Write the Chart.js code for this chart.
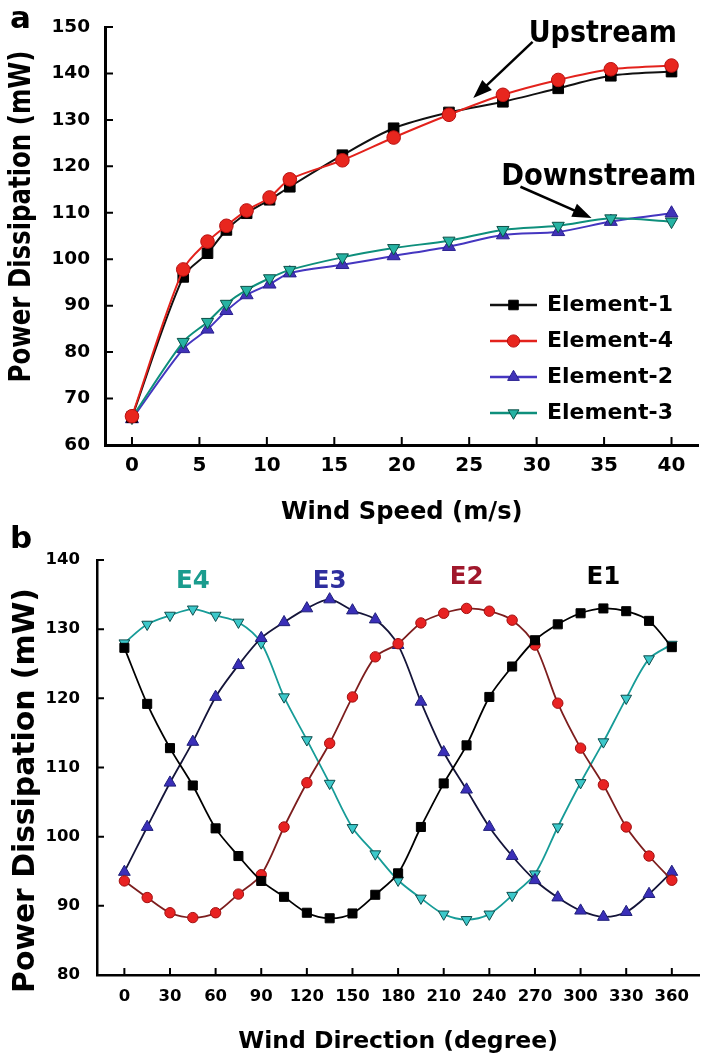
<!DOCTYPE html>
<html>
<head>
<meta charset="utf-8">
<title>Power dissipation vs wind speed and direction</title>
<script src="https://cdn.jsdelivr.net/npm/chart.js@4.4.1/dist/chart.umd.min.js"></script>
<style>
  html, body { margin: 0; padding: 0; background: #fff; }
  #wrap { width: 707px; height: 1061px; background: #fff; }
  canvas { display: block; }
</style>
</head>
<body>
<div id="wrap">
  <canvas id="chartA" width="707" height="525"></canvas>
  <canvas id="chartB" width="707" height="536"></canvas>
</div>
<script>
const FONT = '"DejaVu Sans", "Liberation Sans", sans-serif';

// (a) power dissipation against wind speed
const windSpeed = [0, 3.8, 5.6, 7.0, 8.5, 10.2, 11.7, 15.6, 19.4, 23.5, 27.5, 31.6, 35.5, 40.0];
const element1 = [66.0, 96.2, 101.3, 106.3, 109.9, 112.8, 115.6, 122.4, 128.2, 131.6, 133.9, 136.8, 139.5, 140.4];
const element4 = [66.2, 97.8, 103.8, 107.2, 110.5, 113.3, 117.2, 121.3, 126.2, 131.1, 135.4, 138.6, 140.9, 141.7];
const element2 = [65.6, 80.7, 84.9, 88.9, 92.3, 94.6, 97.0, 98.8, 100.7, 102.7, 105.2, 105.9, 108.1, 109.9];
const element3 = [65.9, 82.2, 86.5, 90.4, 93.4, 95.9, 97.7, 100.4, 102.4, 104.0, 106.3, 107.2, 108.8, 108.1];
const speedTicks = [0, 5, 10, 15, 20, 25, 30, 35, 40];
const powerTicksA = [60, 70, 80, 90, 100, 110, 120, 130, 140, 150];

// (b) power dissipation against wind direction
const windDir = [0, 15, 30, 45, 60, 75, 90, 105, 120, 135, 150, 165, 180,
                 195, 210, 225, 240, 255, 270, 285, 300, 315, 330, 345, 360];
const e1 = [127.3, 119.2, 112.8, 107.4, 101.2, 97.2, 93.6, 91.3, 89.0, 88.2, 88.9, 91.6, 94.7,
            101.4, 107.7, 113.2, 120.2, 124.6, 128.4, 130.7, 132.3, 133.0, 132.6, 131.2, 127.4];
const e2 = [93.6, 91.2, 89.0, 88.3, 89.0, 91.7, 94.5, 101.4, 107.8, 113.5, 120.2, 126.0, 127.9,
            130.9, 132.3, 133.0, 132.6, 131.3, 127.7, 119.3, 112.8, 107.5, 101.4, 97.2, 93.7];
const e3 = [94.9, 101.4, 107.8, 113.7, 120.2, 124.8, 128.7, 131.0, 133.0, 134.3, 132.7, 131.4, 127.7,
            119.5, 112.2, 106.8, 101.4, 97.2, 93.7, 91.2, 89.3, 88.4, 89.1, 91.7, 94.9];
const e4 = [128.0, 130.7, 132.0, 132.9, 132.0, 131.0, 128.0, 120.2, 114.0, 107.7, 101.3, 97.5, 93.7,
            91.1, 88.8, 88.0, 88.8, 91.5, 94.6, 101.4, 107.8, 113.7, 120.0, 125.7, 127.8];
const dirTicks = [0, 30, 60, 90, 120, 150, 180, 210, 240, 270, 300, 330, 360];
const powerTicksB = [80, 90, 100, 110, 120, 130, 140];

const pairs = (xs, ys) => xs.map((x, i) => ({ x: x, y: ys[i] }));
const fixedTicks = (values) => (scale) => { scale.ticks = values.map(v => ({ value: v })); };

// inward tick marks, rotated y title and the panel letter
const axisDecor = {
  id: 'axisDecor',
  afterDraw(chart, args, opts) {
    const { ctx, chartArea: area, scales: { x, y } } = chart;
    ctx.save();
    ctx.strokeStyle = '#000';
    ctx.lineWidth = opts.tickWidth;
    ctx.beginPath();
    x.ticks.forEach(t => {
      const px = x.getPixelForValue(t.value);
      ctx.moveTo(px, area.bottom);
      ctx.lineTo(px, area.bottom - opts.tickLength);
    });
    y.ticks.forEach(t => {
      const py = y.getPixelForValue(t.value);
      ctx.moveTo(area.left, py);
      ctx.lineTo(area.left + opts.tickLength, py);
    });
    ctx.stroke();
    ctx.restore();

    const yt = opts.yTitle;
    ctx.save();
    ctx.translate(yt.x, yt.y);
    ctx.rotate(-Math.PI / 2);
    ctx.scale(yt.stretch || 1, 1);
    ctx.font = 'bold ' + yt.size + 'px ' + FONT;
    ctx.fillStyle = '#000';
    ctx.textAlign = 'center';
    ctx.textBaseline = 'middle';
    ctx.fillText(yt.text, 0, 0);
    ctx.restore();

    const lt = opts.letter;
    ctx.save();
    ctx.font = 'bold ' + lt.size + 'px ' + FONT;
    ctx.fillStyle = '#000';
    ctx.textBaseline = 'alphabetic';
    ctx.fillText(lt.text, lt.x, lt.y);
    ctx.restore();
  }
};

// text labels and arrows placed in data coordinates
const notes = {
  id: 'notes',
  afterDatasetsDraw(chart, args, opts) {
    const { ctx, scales: { x, y } } = chart;
    (opts.arrows || []).forEach(a => {
      const x0 = x.getPixelForValue(a.from[0]), y0 = y.getPixelForValue(a.from[1]);
      const x1 = x.getPixelForValue(a.to[0]), y1 = y.getPixelForValue(a.to[1]);
      const ang = Math.atan2(y1 - y0, x1 - x0);
      const head = 19, half = 7;
      ctx.save();
      ctx.strokeStyle = '#000';
      ctx.fillStyle = '#000';
      ctx.lineWidth = 2.5;
      ctx.beginPath();
      ctx.moveTo(x0, y0);
      ctx.lineTo(x1 - Math.cos(ang) * head * 0.8, y1 - Math.sin(ang) * head * 0.8);
      ctx.stroke();
      ctx.beginPath();
      ctx.moveTo(x1, y1);
      ctx.lineTo(x1 - Math.cos(ang) * head - Math.sin(ang) * half, y1 - Math.sin(ang) * head + Math.cos(ang) * half);
      ctx.lineTo(x1 - Math.cos(ang) * head + Math.sin(ang) * half, y1 - Math.sin(ang) * head - Math.cos(ang) * half);
      ctx.closePath();
      ctx.fill();
      ctx.restore();
    });
    (opts.texts || []).forEach(t => {
      ctx.save();
      ctx.translate(x.getPixelForValue(t.at[0]), y.getPixelForValue(t.at[1]));
      ctx.scale(t.stretch || 1, 1);
      ctx.font = 'bold ' + t.size + 'px ' + FONT;
      ctx.fillStyle = t.color || '#000';
      ctx.textAlign = 'center';
      ctx.textBaseline = t.baseline || 'middle';
      ctx.fillText(t.text, 0, 0);
      ctx.restore();
    });
  }
};

// legend with a line segment and marker per series
const sideLegend = {
  id: 'sideLegend',
  afterDraw(chart, args, opts) {
    const ctx = chart.ctx;
    chart.data.datasets.forEach((ds, i) => {
      const cy = opts.top + i * opts.rowGap;
      const cx = (opts.lineX0 + opts.lineX1) / 2;
      ctx.save();
      ctx.strokeStyle = ds.borderColor;
      ctx.lineWidth = 2.5;
      ctx.beginPath();
      ctx.moveTo(opts.lineX0, cy);
      ctx.lineTo(opts.lineX1, cy);
      ctx.stroke();
      ctx.fillStyle = ds.pointBackgroundColor;
      ctx.strokeStyle = ds.pointBorderColor;
      ctx.lineWidth = ds.pointBorderWidth;
      Chart.helpers.drawPoint(ctx, {
        pointStyle: ds.pointStyle,
        rotation: ds.pointRotation || 0,
        radius: ds.pointRadius * 0.9,
        borderWidth: ds.pointBorderWidth
      }, cx, cy);
      ctx.fillStyle = '#000';
      ctx.font = 'bold ' + opts.fontSize + 'px ' + FONT;
      ctx.textAlign = 'left';
      ctx.textBaseline = 'middle';
      ctx.fillText(ds.label, opts.textX, cy);
      ctx.restore();
    });
  }
};

function axisOptions(cfg) {
  return {
    type: 'linear',
    min: cfg.min,
    max: cfg.max,
    afterBuildTicks: fixedTicks(cfg.ticks),
    afterFit: cfg.fit,
    grid: { display: false, drawTicks: false },
    border: { display: true, color: '#000', width: cfg.axisWidth },
    ticks: {
      autoSkip: false,
      maxRotation: 0,
      color: '#000',
      padding: cfg.pad,
      font: { family: FONT, size: cfg.fontSize, weight: 'bold' }
    },
    title: cfg.title ? {
      display: true,
      text: cfg.title,
      color: '#000',
      padding: { top: 0, bottom: cfg.titlePad },
      font: { family: FONT, size: cfg.titleSize, weight: 'bold', lineHeight: 1 }
    } : { display: false }
  };
}

new Chart(document.getElementById('chartA'), {
  type: 'line',
  data: {
    datasets: [
      {
        label: 'Element-1', data: pairs(windSpeed, element1), order: 1,
        borderColor: '#111111', borderWidth: 2, tension: 0.3,
        pointStyle: 'rect', pointRadius: 7.5, pointBackgroundColor: '#000000',
        pointBorderColor: '#000000', pointBorderWidth: 1
      },
      {
        label: 'Element-4', data: pairs(windSpeed, element4), order: 0,
        borderColor: '#e3221c', borderWidth: 2, tension: 0.3,
        pointStyle: 'circle', pointRadius: 6.8, pointBackgroundColor: '#e8261e',
        pointBorderColor: '#b81010', pointBorderWidth: 1
      },
      {
        label: 'Element-2', data: pairs(windSpeed, element2), order: 3,
        borderColor: '#4536c0', borderWidth: 2, tension: 0.3,
        pointStyle: 'triangle', pointRadius: 7.5, pointBackgroundColor: '#4133b8',
        pointBorderColor: '#2a2090', pointBorderWidth: 1
      },
      {
        label: 'Element-3', data: pairs(windSpeed, element3), order: 2,
        borderColor: '#0e8f7c', borderWidth: 2, tension: 0.3,
        pointStyle: 'triangle', pointRotation: 180, pointRadius: 7, pointBackgroundColor: '#26b3a3',
        pointBorderColor: '#0b4f47', pointBorderWidth: 1
      }
    ]
  },
  options: {
    responsive: false,
    animation: false,
    events: [],
    layout: { padding: { left: 0, right: 2, top: 27, bottom: 0 } },
    scales: {
      x: axisOptions({
        min: -2, max: 42, ticks: speedTicks, axisWidth: 3, pad: 9, fontSize: 20,
        fit: s => { s.height = 80; },
        title: 'Wind Speed (m/s)', titleSize: 24.2, titlePad: 0
      }),
      y: axisOptions({
        min: 60, max: 150, ticks: powerTicksA, axisWidth: 3, pad: 15, fontSize: 18.5,
        fit: s => { s.width = 105; }
      })
    },
    plugins: {
      legend: { display: false },
      tooltip: { enabled: false },
      axisDecor: {
        tickLength: 8, tickWidth: 2,
        yTitle: { text: 'Power Dissipation (mW)', x: 22, y: 216.5, size: 29.8, stretch: 0.82 },
        letter: { text: 'a', x: 10, y: 28, size: 31 }
      },
      notes: {
        arrows: [
          { from: [29.7, 146.8], to: [25.3, 134.7] },
          { from: [28.8, 115.6], to: [34.07, 108.9] }
        ],
        texts: [
          { text: 'Upstream', at: [34.9, 146.8], size: 30, stretch: 0.9, baseline: 'alphabetic' },
          { text: 'Downstream', at: [34.6, 116.0], size: 29.8, stretch: 0.92, baseline: 'alphabetic' }
        ]
      },
      sideLegend: { top: 305, rowGap: 36, lineX0: 490, lineX1: 537, textX: 547, fontSize: 22 }
    }
  },
  plugins: [axisDecor, notes, sideLegend]
});

new Chart(document.getElementById('chartB'), {
  type: 'line',
  data: {
    datasets: [
      {
        label: 'E1', data: pairs(windDir, e1),
        borderColor: '#000000', borderWidth: 1.8, tension: 0.3,
        pointStyle: 'rect', pointRadius: 6.4, pointBackgroundColor: '#000000',
        pointBorderColor: '#000000', pointBorderWidth: 1
      },
      {
        label: 'E2', data: pairs(windDir, e2),
        borderColor: '#7d1e1e', borderWidth: 1.8, tension: 0.3,
        pointStyle: 'circle', pointRadius: 5.2, pointBackgroundColor: '#e82222',
        pointBorderColor: '#a01010', pointBorderWidth: 1
      },
      {
        label: 'E3', data: pairs(windDir, e3),
        borderColor: '#15153a', borderWidth: 1.8, tension: 0.3,
        pointStyle: 'triangle', pointRadius: 6.8, pointBackgroundColor: '#3a2fb8',
        pointBorderColor: '#20207a', pointBorderWidth: 1
      },
      {
        label: 'E4', data: pairs(windDir, e4),
        borderColor: '#179c98', borderWidth: 1.8, tension: 0.3,
        pointStyle: 'triangle', pointRotation: 180, pointRadius: 6.2, pointBackgroundColor: '#3cc8ca',
        pointBorderColor: '#0d4c4c', pointBorderWidth: 1
      }
    ]
  },
  options: {
    responsive: false,
    animation: false,
    events: [],
    layout: { padding: { left: 0, right: 2, top: 35, bottom: 0 } },
    scales: {
      x: axisOptions({
        min: -18, max: 378, ticks: dirTicks, axisWidth: 2.5, pad: 12, fontSize: 16.5,
        fit: s => { s.height = 86; },
        title: 'Wind Direction (degree)', titleSize: 23.5, titlePad: 7
      }),
      y: axisOptions({
        min: 80, max: 140, ticks: powerTicksB, axisWidth: 2.5, pad: 17, fontSize: 16.5,
        fit: s => { s.width = 97; }
      })
    },
    plugins: {
      legend: { display: false },
      tooltip: { enabled: false },
      axisDecor: {
        tickLength: 7, tickWidth: 2,
        yTitle: { text: 'Power Dissipation (mW)', x: 26, y: 265.5, size: 29.8, stretch: 1 },
        letter: { text: 'b', x: 10, y: 23, size: 31 }
      },
      notes: {
        texts: [
          { text: 'E4', at: [45, 136.8], size: 24.5, color: '#1a9c8e' },
          { text: 'E3', at: [135, 136.8], size: 24.5, color: '#2e2e9e' },
          { text: 'E2', at: [225, 137.4], size: 24.5, color: '#a0182c' },
          { text: 'E1', at: [315, 137.4], size: 24.5, color: '#000000' }
        ]
      }
    }
  },
  plugins: [axisDecor, notes]
});
</script>
</body>
</html>
